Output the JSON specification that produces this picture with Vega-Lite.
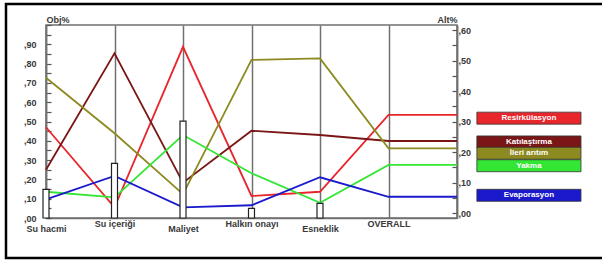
{
  "$schema": "https://vega.github.io/schema/vega-lite/v6.json",
  "width": 411,
  "height": 193,
  "autosize": {"type": "none"},
  "padding": {"left": 46, "top": 25, "right": 145, "bottom": 43},
  "background": "white",
  "config": {
    "view": {"stroke": "#707070", "strokeWidth": 1.5},
    "font": "Liberation Sans",
    "axis": {
      "labelFont": "Liberation Sans", "labelFontWeight": "bold", "labelFontSize": 9, "labelColor": "#383838",
      "titleFont": "Liberation Sans", "titleFontWeight": "bold", "titleFontSize": 9, "titleColor": "#383838",
      "domainColor": "#707070", "domainWidth": 1.5, "tickColor": "#555555", "tickWidth": 1.2, "gridColor": "#707070", "gridOpacity": 1
    }
  },
  "datasets": {
    "cizgiler": [
      {"seri": "Resirkülasyon", "sira": 0, "deger": 0.47},
      {"seri": "Resirkülasyon", "sira": 1, "deger": 0.055},
      {"seri": "Resirkülasyon", "sira": 2, "deger": 0.887},
      {"seri": "Resirkülasyon", "sira": 3, "deger": 0.114},
      {"seri": "Resirkülasyon", "sira": 4, "deger": 0.136},
      {"seri": "Resirkülasyon", "sira": 5, "deger": 0.534},
      {"seri": "Resirkülasyon", "sira": 6, "deger": 0.534},
      {"seri": "Katılaştırma", "sira": 0, "deger": 0.25},
      {"seri": "Katılaştırma", "sira": 1, "deger": 0.853},
      {"seri": "Katılaştırma", "sira": 2, "deger": 0.183},
      {"seri": "Katılaştırma", "sira": 3, "deger": 0.452},
      {"seri": "Katılaştırma", "sira": 4, "deger": 0.43},
      {"seri": "Katılaştırma", "sira": 5, "deger": 0.399},
      {"seri": "Katılaştırma", "sira": 6, "deger": 0.399},
      {"seri": "İleri arıtım", "sira": 0, "deger": 0.727},
      {"seri": "İleri arıtım", "sira": 1, "deger": 0.439},
      {"seri": "İleri arıtım", "sira": 2, "deger": 0.124},
      {"seri": "İleri arıtım", "sira": 3, "deger": 0.819},
      {"seri": "İleri arıtım", "sira": 4, "deger": 0.827},
      {"seri": "İleri arıtım", "sira": 5, "deger": 0.361},
      {"seri": "İleri arıtım", "sira": 6, "deger": 0.361},
      {"seri": "Yakma", "sira": 0, "deger": 0.136},
      {"seri": "Yakma", "sira": 1, "deger": 0.107},
      {"seri": "Yakma", "sira": 2, "deger": 0.43},
      {"seri": "Yakma", "sira": 3, "deger": 0.232},
      {"seri": "Yakma", "sira": 4, "deger": 0.079},
      {"seri": "Yakma", "sira": 5, "deger": 0.275},
      {"seri": "Yakma", "sira": 6, "deger": 0.275},
      {"seri": "Evaporasyon", "sira": 0, "deger": 0.097},
      {"seri": "Evaporasyon", "sira": 1, "deger": 0.218},
      {"seri": "Evaporasyon", "sira": 2, "deger": 0.055},
      {"seri": "Evaporasyon", "sira": 3, "deger": 0.066},
      {"seri": "Evaporasyon", "sira": 4, "deger": 0.211},
      {"seri": "Evaporasyon", "sira": 5, "deger": 0.11},
      {"seri": "Evaporasyon", "sira": 6, "deger": 0.11}
    ],
    "agirliklar": [
      {"kriter": "Su hacmi", "sira": 0, "agirlik": 0.148},
      {"kriter": "Su içeriği", "sira": 1, "agirlik": 0.283},
      {"kriter": "Maliyet", "sira": 2, "agirlik": 0.502},
      {"kriter": "Halkın onayı", "sira": 3, "agirlik": 0.05},
      {"kriter": "Esneklik", "sira": 4, "agirlik": 0.076}
    ],
    "etiketler": [
      {"seri": "Resirkülasyon", "konum": 0.311},
      {"seri": "Katılaştırma", "konum": 0.233},
      {"seri": "İleri arıtım", "konum": 0.196},
      {"seri": "Yakma", "konum": 0.155},
      {"seri": "Evaporasyon", "konum": 0.058}
    ]
  },
  "layer": [
    {
      "layer": [
        {
          "data": {"name": "cizgiler"},
          "mark": {"type": "line", "strokeWidth": 1.8},
          "encoding": {
            "x": {
              "field": "sira", "type": "quantitative",
              "scale": {"domain": [0, 6], "nice": false, "zero": false, "padding": 0},
              "axis": {
                "tickCount": 6,
                "labelExpr": "['Su hacmi','Su içeriği','Maliyet','Halkın onayı','Esneklik','OVERALL',''][datum.value]",
                "ticks": false, "grid": true, "gridWidth": 1.5, "title": null,
                "labelFlush": false, "labelOverlap": false, "labelAlign": "center", "labelBaseline": "top",
                "labelPadding": {"condition": {"test": "datum.value % 2 == 0", "value": 6}, "value": 1}
              }
            },
            "y": {
              "field": "deger", "type": "quantitative",
              "scale": {"domain": [0, 1], "nice": false, "zero": true},
              "axis": {
                "orient": "left",
                "tickCount": 20,
                "labelExpr": "round(datum.value*100) % 10 == 0 && datum.value < 0.99 ? ',' + substring(format(datum.value, '.2f'), 2) : ''",
                "ticks": true, "tickSize": -5, "labelOverlap": false, "labelFlush": false,
                "labelPadding": 15, "grid": false,
                "title": "Obj%", "titleAngle": 0, "titleX": 0, "titleY": -1, "titleAlign": "left", "titleBaseline": "bottom"
              }
            },
            "color": {
              "field": "seri", "type": "nominal",
              "scale": {
                "domain": ["Resirkülasyon", "Katılaştırma", "İleri arıtım", "Yakma", "Evaporasyon"],
                "range": ["#e8262b", "#7a1616", "#8c8a20", "#33e633", "#1a1acc"]
              },
              "legend": null
            }
          }
        },
        {
          "data": {"name": "agirliklar"},
          "mark": {"type": "bar", "orient": "vertical", "size": 6, "fill": "white", "stroke": "#222222", "strokeWidth": 1.2},
          "encoding": {
            "x": {"field": "sira", "type": "quantitative"},
            "y": {"field": "agirlik", "type": "quantitative"}
          }
        },
        {
          "data": {"values": [{}]},
          "mark": {"type": "rect", "fillOpacity": 0, "stroke": "black", "strokeWidth": 2.5, "clip": false},
          "encoding": {
            "x": {"datum": -0.584, "type": "quantitative"},
            "x2": {"datum": 8.4},
            "y": {"datum": -0.207, "type": "quantitative"},
            "y2": {"datum": 1.109}
          }
        }
      ]
    },
    {
      "layer": [
        {
          "data": {"name": "etiketler"},
          "mark": {"type": "bar", "orient": "horizontal", "size": 12, "stroke": "#333333", "strokeWidth": 0.8, "clip": false},
          "encoding": {
            "x": {"datum": 6.29, "type": "quantitative"},
            "x2": {"datum": 7.81},
            "y": {
              "field": "konum", "type": "quantitative",
              "scale": {"domain": [0, 0.6], "nice": false, "zero": true},
              "axis": {
                "orient": "right",
                "tickCount": 12,
                "labelExpr": "round(datum.value*100) % 10 == 0 ? ',' + substring(format(datum.value, '.2f'), 2) : ''",
                "ticks": true, "tickSize": -5, "labelOverlap": false, "labelFlush": false,
                "labelPadding": 6, "grid": false,
                "title": "Alt%", "titleAngle": 0, "titleX": 0, "titleY": -1, "titleAlign": "right", "titleBaseline": "bottom"
              }
            },
            "color": {"field": "seri", "type": "nominal", "legend": null}
          }
        },
        {
          "data": {"name": "etiketler"},
          "mark": {"type": "text", "color": "white", "fontWeight": "bold", "fontSize": 8, "font": "Liberation Sans", "clip": false},
          "encoding": {
            "x": {"datum": 7.05, "type": "quantitative"},
            "y": {"field": "konum", "type": "quantitative"},
            "text": {"field": "seri"}
          }
        }
      ]
    }
  ],
  "resolve": {"scale": {"y": "independent"}, "axis": {"y": "independent"}}
}
